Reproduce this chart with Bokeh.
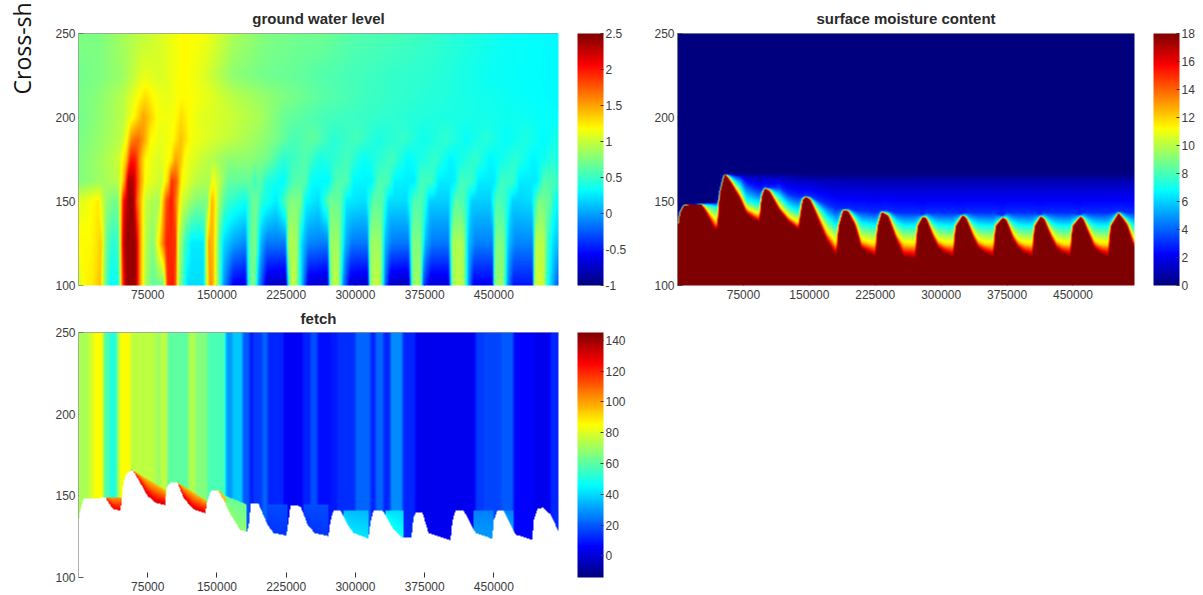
import numpy as np
from bokeh.plotting import figure
from bokeh.layouts import column, row
from bokeh.embed import file_html
from bokeh.resources import INLINE
from bokeh.models import (LinearColorMapper, ColorBar, FixedTicker, NumeralTickFormatter,
                          Span, Label, Range1d)

X_MAX = 520000
x_ticks = [75000, 150000, 225000, 300000, 375000, 450000]
y_ticks = [100, 150, 200, 250]

# ---- ground water level: knots (raster column, value) on rows at these elevations
gw_rows = [100, 125, 150, 162, 175, 187, 200, 212, 225, 250]
gw_c_100 = [0,5,14,22,26,32,40,44,48,57,62,67,74,85,89,94,97,100,105,109,125,129,132,135,140,145,155,167,170,174,177,180,189,207,211,214,217,222,230,249,252,256,260,265,272,289,292,297,302,307,312,330,334,338,342,345,352,370,374,379,385,390,395,414,416,420,425,429,435,454,456,460,465,469,475,480]
gw_v_100 = [1.0,1.2,1.25,1.4,.8,.3,.4,1.8,2.4,2.4,1.5,.9,.65,.7,1.9,2.0,1.8,.9,.5,.2,.2,1.2,1.6,1.4,.7,0,-.6,-.65,.4,.8,.6,0,-.75,-.8,.7,1.0,.95,.3,-.7,-.75,.7,1.0,.9,-.1,-.7,-.75,.8,1.0,.9,-.2,-.75,-.8,.7,.9,.8,-.3,-.7,-.7,.8,1.0,.9,0,-.6,-.6,.7,.85,.8,0,-.5,-.5,.9,1.05,1.0,.4,0,-.3]
gw_c_125 = [3,13,23,27,33,40,44,47,57,62,67,75,88,97,100,107,113,125,130,135,140,145,155,167,171,177,182,188,207,210,218,223,230,249,252,260,267,274,289,292,302,307,314,330,334,342,347,354,370,374,385,390,397,414,417,425,430,437,454,457,465,470,475,480]
gw_v_125 = [1.2,1.2,1.35,.75,.45,.5,2.0,2.4,2.4,1.5,.95,.75,1.95,1.9,1.0,.5,.25,.25,1.5,1.4,.7,.2,0,-.1,.6,.75,.1,-.15,-.15,.9,.9,.2,-.1,-.15,.85,.85,.05,-.15,-.15,.85,.85,.05,-.15,-.15,.75,.75,.05,-.15,-.15,.9,.9,.1,-.12,-.12,.75,.75,.1,-.1,-.1,.95,.95,.45,.2,.1]
gw_c_150 = [5,20,27,35,40,45,50,55,58,67,80,88,93,97,103,117,129,133,136,140,147,155,167,174,178,183,198,211,222,227,240,252,262,268,287,295,304,310,328,336,345,351,370,377,386,393,412,418,427,434,453,460,471,476,480]
gw_v_150 = [1.1,1.25,.85,.7,.75,2.0,2.4,2.4,1.8,1.0,.85,1.8,2.0,1.7,1.05,.75,.75,1.45,1.3,.9,.55,.45,.35,.65,.7,.45,.25,.75,.75,.3,.2,.7,.65,.25,.2,.65,.6,.2,.2,.6,.55,.15,.15,.65,.55,.15,.15,.6,.5,.15,.2,.75,.65,.4,.3]
gw_c_162 = [0,20,40,46,50,55,60,67,83,90,93,98,103,117,131,135,138,150,173,176,181,187,205,215,227,233,250,257,269,275,293,300,310,316,336,342,354,360,376,382,394,400,416,422,435,441,459,465,477,480]
gw_v_162 = [.75,.85,.95,1.5,2.35,2.3,1.7,1.15,1.0,1.4,1.9,1.75,1.2,.95,.9,1.2,1.05,.65,.65,.5,.65,.45,.3,.6,.6,.32,.3,.58,.58,.3,.28,.58,.56,.28,.26,.55,.52,.25,.25,.55,.5,.25,.25,.52,.5,.25,.25,.6,.55,.45]
gw_c_175 = [0,20,40,48,52,57,62,67,80,92,97,102,107,123,150,172,189,205,227,242,269,285,314,329,357,372,397,412,437,455,475,480]
gw_v_175 = [.75,.85,1.0,1.4,2.0,1.95,1.5,1.2,1.05,1.2,1.5,1.4,1.15,1.0,.8,.8,.7,.45,.6,.38,.55,.33,.55,.3,.5,.28,.5,.28,.47,.28,.45,.35]
gw_c_187 = [0,20,42,48,53,60,67,72,83,95,102,107,113,133,157,177,195,215,235,255,278,300,325,345,368,388,408,428,448,465,480]
gw_v_187 = [.72,.82,.95,1.15,1.6,1.7,1.45,1.2,1.1,1.2,1.4,1.3,1.15,1.05,.95,.85,.75,.55,.65,.45,.55,.4,.5,.36,.48,.33,.45,.32,.42,.3,.4]
gw_c_200 = [0,20,45,55,65,72,80,95,103,110,120,140,180,205,245,290,340,380,420,460,480]
gw_v_200 = [.7,.8,.95,1.2,1.5,1.35,1.15,1.15,1.3,1.2,1.1,1.05,.9,.68,.55,.5,.43,.4,.37,.34,.32]
gw_c_212 = [0,20,45,55,67,78,90,103,112,130,155,180,205,245,290,340,400,480]
gw_v_212 = [.72,.78,.95,1.1,1.3,1.15,1.1,1.2,1.18,1.1,.95,.85,.75,.62,.52,.46,.38,.3]
gw_c_225 = [0,22,45,65,82,105,122,155,188,222,242,275,309,359,409,480]
gw_v_225 = [.7,.75,.85,1.1,1.05,1.2,1.1,.8,.7,.65,.6,.55,.5,.45,.35,.3]
gw_c_250 = [0,22,48,72,105,128,155,188,222,242,275,325,375,425,480]
gw_v_250 = [.75,.75,.9,1.0,1.2,1.15,.9,.75,.7,.7,.6,.55,.45,.35,.3]
gw_ticks = [-1, -0.5, 0, 0.5, 1, 1.5, 2, 2.5]

# ---- surface moisture content: isolines (elevation of a given value) along raster columns
sm_col = [0,2,6,24,28,33,37,39,40,42,46,48,
          53,63,69,78,82,84,87,
          92,102,111,121,125,128,
          133,141,149,159,161,165,166,
          171,178,184,198,200,204,
          211,219,226,238,240,245,
          249,252,256,261,268,276,278,285,
          289,292,296,301,308,316,318,325,
          329,332,336,341,347,355,357,363,
          367,370,374,379,385,393,395,403,
          406,409,413,417,423,431,433,441,
          446,450,457]
sm_y18 = [135,143,147.7,148.3,144,138,133.5,132.8,134,155,165,166.2,
          161.6,150.7,142.7,138.7,137.8,152.7,157.6,
          155.6,144.7,137.8,132.8,150.7,152.7,
          150.7,138.7,126.8,117.3,134.8,143.7,144.7,
          143.7,134.8,121.9,116.9,134.8,143.7,
          140.7,126.8,116.9,115.9,134.8,140.7,
          139.5,134.5,128,122,119,116.9,134.8,141.7,
          139.5,134.5,128,122,119,116.9,134.8,140.3,
          138.5,133.5,127,122,119,116.9,134.8,141,
          139,134,128,122,119,117.3,134.8,141,
          139,134,128,122,119,116.9,134.8,143.1,
          139,134.8,121.9]
sm_y12 = [135.1,143.1,147.8,148.4,146,142,139,137,138,155.1,165.1,166.3,
          162.6,153.6,145.7,142.7,141.7,153,158,
          157,146.7,140.7,136.8,151,153,
          151.5,141.7,131.8,124,135.5,144,145,
          144.5,137.5,126,124,135.5,144,
          142,130,124.5,124,135.5,141,
          140.5,136.5,131,126,124.5,124,135.5,142,
          140.5,136.5,131,126,124.5,124,135.5,140.6,
          139.5,135.5,130,126,124.5,124,135.5,141.3,
          140,136,131,126,124.5,124,135.5,141.3,
          140,136,131,126,124.5,124,135.5,143.4,
          140,137,126]
sm_y7 = [135.2,143.2,147.9,148.5,148,147.5,147,146.7,146.5,155.2,165.2,166.4,
         164.6,158.6,150.7,148.7,147.7,153.5,158.2,
         157.5,152.7,146.7,143.7,151.5,153.2,
         152,146.7,140.7,135,137,144.5,145.2,
         145,140.7,136.5,135,137,144.2,
         143,137.5,135,135,137,141.2,
         141,139,137,135.5,135,135,137,142.3,
         141,139,137,135.5,135,135,137,140.8,
         140.5,138.5,137,135.5,135,135,137,141.6,
         140.5,139,137,135.5,135,135,137,141.6,
         140.5,139,137,135.5,135,135,137,143.7,
         141,139,135]
sm_y3 = [135.3,143.3,148,148.7,148.9,149,149,149,149,155.4,165.4,166.5,
         165.8,164.6,160.6,157.6,156.6,156.6,158.4,
         158,158.6,154.6,152.7,152.7,153.4,
         153,150.7,148.7,145.7,145.7,145.5,145.7,
         145.7,144.7,144.7,143.7,143.7,144.5,
         144.5,143.5,143.5,143.5,143.5,142,
         143.5,143.5,143.5,143.5,143.5,143.5,143.5,142.5,
         143.5,143.5,143.5,143.5,143.5,143.5,143.5,141.5,
         143.5,143.5,143.5,143.5,143.5,143.5,143.5,142,
         143.5,143.5,143.5,143.5,143.5,143.5,143.5,142,
         143.5,143.5,143.5,143.5,143.5,143.5,143.5,144,
         144,143.5,143.5]
n_tail = len(sm_col) - 38
sm_y1 = [135.4,143.4,148.1,148.9,149.1,149.2,149.2,149.2,149.2,155.6,165.6,166.6,
         166.2,165.6,165.5,165,165,165,165,
         165,164.6,164.2,163.6,163.5,163.5,
         163,162.6,162.6,162.6,162.6,162.5,162.5,
         162,162,162,162,162,162] + [162] * n_tail
sm_y0 = [135.6,143.6,148.3,149.1,149.3,149.4,149.4,149.4,149.4,155.9,165.9,166.8] + [166.8] * (len(sm_col) - 12)
sm_ticks = [0, 2, 4, 6, 8, 10, 12, 14, 16, 18]

# ---- fetch: vertical stripes, the wet/land boundary, and lower patches
fe_edges = [0,10,15,25,31,38,41,52,77,82,89,110,117,129,147,154,164,171,175,184,189,205,224,232,239,252,259,277,292,297,305,312,324,337,397,405,423,435,455,472,480]
fe_vals  = [72,78,85,58,50,68,85,75,70,75,60,73,66,57,30,37,20,10,15,22,12,5,11,18,8,10,13,22,11,22,12,28,12,4,15,17,20,6,4,12]
fe_bc = [0,2,5,27,30,35,42,43,45,49,54,59,69,77,87,88,92,99,105,115,127,128,132,139,144,152,162,169,171,172,180,189,195,208,210,212,222,229,236,250,252,255,262,269,275,290,292,295,304,314,324,333,335,337,344,350,372,374,377,385,397,414,415,419,425,437,454,455,459,465,472,480]
fe_by = [134.5,141.7,148.2,148.8,145.8,141.7,141,146.8,159,164.2,165.9,161,150,145.8,144.3,155,158,158.1,148.8,141.7,139.2,144.7,152.9,153.6,148.8,138.6,128.7,128.3,134.5,145.1,145.3,132.4,127.3,125.7,134.5,144.1,143.7,132.4,127.3,125.2,134.5,141,141,132.4,127.3,123.8,133.4,141.2,141.2,130.4,124.2,124.2,136.5,139.6,139.6,127.3,122.8,134.5,141.2,141.2,127.3,123.6,134.5,141,141,126.3,123,134.5,142.3,142.7,138.6,128.3]
pa_c0 = [28,53,99,139,147,189,225,265,307,395,425]
pa_c1 = [43,87,128,147,168,209,250,290,325,415,435]
pa_y0 = [149.2,165.9,158,153.6,149.9,144.7,144.7,141,141,141,141]
pa_y1 = [149.2,153.4,146.8,148.8,144.7,144.7,144.7,141,141,141,141]
pa_vt = [100,95,95,92,62,18,18,35,40,26,26]
pa_vb = [128,132,132,100,68,14,14,42,48,30,30]
fe_ticks = [0, 20, 40, 60, 80, 100, 120, 140]


def jet_palette(n=256):
    out = []
    for i in range(n):
        t = i / (n - 1)
        r = np.clip(min(4 * t - 1.5, -4 * t + 4.5), 0, 1)
        g = np.clip(min(4 * t - 0.5, -4 * t + 3.5), 0, 1)
        b = np.clip(min(4 * t + 0.5, -4 * t + 2.5), 0, 1)
        out.append("#%02x%02x%02x" % (int(r * 255), int(g * 255), int(b * 255)))
    return out


JET = jet_palette()
INK = "#3c3c3c"


def soften(v):
    pad = np.concatenate(([v[0]], v, [v[-1]]))
    return np.convolve(pad, [0.25, 0.5, 0.25], mode="valid")


def grid_gw():
    nx, ny = 480, 252
    cols = np.arange(nx) + 0.5
    rows = np.array([np.interp(cols, c, v) for c, v in [
        (gw_c_100, gw_v_100), (gw_c_125, gw_v_125), (gw_c_150, gw_v_150), (gw_c_162, gw_v_162),
        (gw_c_175, gw_v_175), (gw_c_187, gw_v_187), (gw_c_200, gw_v_200), (gw_c_212, gw_v_212),
        (gw_c_225, gw_v_225), (gw_c_250, gw_v_250)]])
    ys = 100 + (np.arange(ny) + 0.5) * 150 / ny
    return np.array([np.interp(ys, gw_rows, rows[:, i]) for i in range(nx)]).T


def grid_sm():
    nx, ny = 457, 252
    cols = np.arange(nx) + 0.5
    iso = [np.interp(cols, sm_col, a) for a in (sm_y18, sm_y12, sm_y7, sm_y3, sm_y1, sm_y0)]
    levels = [18, 12, 7, 3, 1, 0]
    ys = 100 + (np.arange(ny) + 0.5) * 150 / ny
    Z = np.zeros((ny, nx))
    for i in range(nx):
        xp = np.maximum.accumulate([a[i] for a in iso])
        xp = xp + np.arange(6) * 1e-3
        Z[:, i] = np.interp(ys, xp, levels)
    return np.array([soften(r) for r in Z])


def grid_fe():
    nx, ny = 480, 245
    cols = np.arange(nx) + 0.5
    ys = 100 + (np.arange(ny) + 0.5) * 150 / ny
    idx = np.clip(np.searchsorted(fe_edges, cols, side="right") - 1, 0, len(fe_vals) - 1)
    Z = np.tile(soften(soften(np.array(fe_vals, dtype=float)[idx])), (ny, 1))
    land = np.interp(cols, fe_bc, fe_by)
    for c0, c1, y0, y1, vt, vb in zip(pa_c0, pa_c1, pa_y0, pa_y1, pa_vt, pa_vb):
        for i in range(c0, min(c1, nx)):
            top = np.interp(i, [c0, c1], [y0, y1])
            if top <= land[i]:
                continue
            m = (ys <= top) & (ys >= land[i])
            Z[m, i] = vt + (vb - vt) * (top - ys[m]) / max(top - land[i], 1e-6)
    for i in range(nx):
        Z[ys < land[i], i] = np.nan
    return Z


def panel(Z, title, low, high, cticks, w, h, left, right, top, bottom, cb_gap, standoff, show_ticks):
    p = figure(width=w, height=h, output_backend="svg", toolbar_location=None,
               x_range=Range1d(0, X_MAX), y_range=Range1d(100, 250),
               min_border_left=left, min_border_right=right, min_border_top=top,
               min_border_bottom=bottom, x_axis_location="below", tools="",
               background_fill_color=None, border_fill_color=None, outline_line_color=None)
    p.grid.visible = False
    mapper = LinearColorMapper(palette=JET, low=low, high=high, nan_color=(0, 0, 0, 0))
    p.image(image=[Z], x=0, y=100, dw=X_MAX, dh=150, color_mapper=mapper, level="annotation")
    p.title.text = title
    p.title.align = "center"
    p.title.text_font = "Liberation Sans"
    p.title.text_font_size = "15px"
    p.title.text_font_style = "bold"
    p.title.text_color = "#2a2a2a"
    p.title.standoff = standoff
    ax = p.xaxis[0]
    ax.ticker = FixedTicker(ticks=x_ticks)
    ax.formatter = NumeralTickFormatter(format="0")
    ay = p.yaxis[0]
    ay.ticker = FixedTicker(ticks=y_ticks)
    for a in (ax, ay):
        a.major_tick_in = 5
        a.major_tick_out = 0
        a.minor_tick_line_color = None
        a.major_tick_line_color = "#555555"
        a.axis_line_color = None
        a.major_label_text_font = "Liberation Sans"
        a.major_label_text_font_size = "12px"
        a.major_label_text_color = INK
    ax.major_label_standoff = 4
    ay.major_label_standoff = 3
    ay.major_label_orientation = "horizontal"
    if show_ticks:
        ax.level = "overlay"
        ax.major_tick_line_color = "#333333"
    for loc, dim in ((250, "width"), (0, "height")):
        p.add_layout(Span(location=loc, dimension=dim, line_color="#666666", line_width=1, level="overlay"))
    cb = ColorBar(color_mapper=mapper, ticker=FixedTicker(ticks=cticks), width=26, height=p.height - top - bottom,
                  padding=0, margin=0, location=(cb_gap, 0), bar_line_color=None,
                  major_tick_line_color="#333333", major_tick_in=3, major_tick_out=0,
                  minor_tick_line_color=None, major_label_text_font="Liberation Sans",
                  major_label_text_font_size="12px", major_label_text_color=INK,
                  label_standoff=2, background_fill_color=None, title=None,
                  formatter=NumeralTickFormatter(format="0.[0]"))
    p.add_layout(cb, "right")
    return p


p1 = panel(grid_gw(), "ground water level", -1, 2.5, gw_ticks, 640, 301, 78, 82, 33, 16, 19, 13, False)
p2 = panel(grid_sm(), "surface moisture content", 0, 18, sm_ticks, 563, 301, 37, 69, 33, 16, 19, 13, False)
p3 = panel(grid_fe(), "fetch", -14, 145, fe_ticks, 640, 294, 78, 82, 31, 18, 19, 12, True)

p1.add_layout(Label(x=17, y=191, x_units="screen", y_units="screen", text="Cross-sh", angle=90, angle_units="deg",
                    text_font="Open Sans", text_font_size="23px", text_color="#111111"), "left")

root = column(row(p1, p2, spacing=0), p3, spacing=0,
              styles={"position": "absolute", "left": "0px", "top": "0px"})
open("out.html", "w").write(file_html(root, INLINE))
